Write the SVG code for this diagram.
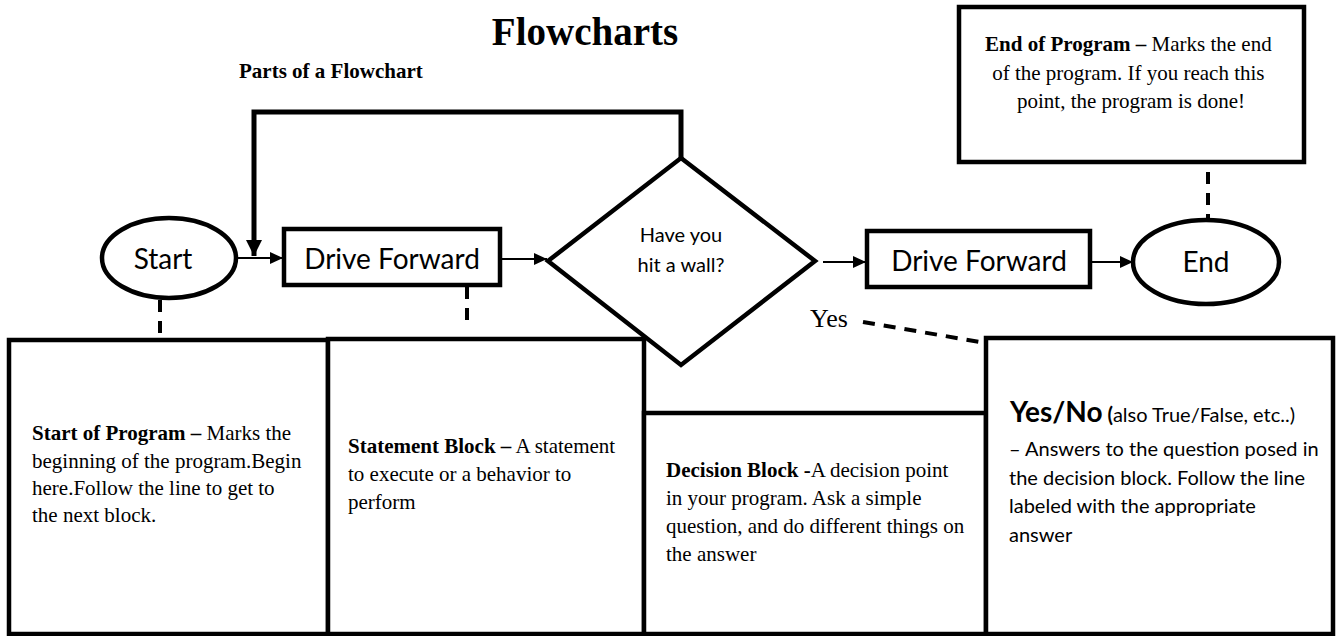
<svg xmlns="http://www.w3.org/2000/svg" width="1336" height="636" viewBox="0 0 1336 636">
  <defs>
    <style>
      .shape{fill:#fff;stroke:#000;stroke-width:4.5}
      .serif{font-family:"Liberation Serif","Times New Roman",serif;fill:#000}
      .sans{font-family:Lato,"Open Sans",sans-serif;fill:#000}
      .b{font-weight:bold}
      .body{font-size:21px}
      .flow{stroke:#000;stroke-width:2;fill:none}
      .loop{stroke:#000;stroke-width:5;fill:none}
      .dash{stroke:#000;stroke-width:4;fill:none;stroke-dasharray:12 9}
      .label{font-size:28px;text-anchor:middle}
    </style>
    <marker id="arrow" markerUnits="userSpaceOnUse" markerWidth="14" markerHeight="14" refX="13" refY="7" orient="auto">
      <path d="M0,1 L13,7 L0,13 Z" fill="#000"/>
    </marker>
    <marker id="arrowBig" markerUnits="userSpaceOnUse" markerWidth="18" markerHeight="18" refX="16" refY="8" orient="auto">
      <path d="M0,0 L16,8 L0,16 Z" fill="#000"/>
    </marker>
  </defs>
  <rect width="1336" height="636" fill="#fff"/>

  <!-- headings -->
  <text class="serif b" x="585" y="45" font-size="39" text-anchor="middle">Flowcharts</text>
  <text class="serif b" x="239" y="78" font-size="21">Parts of a Flowchart</text>

  <!-- description panels -->
  <g id="start-info">
    <rect class="shape" x="9" y="340" width="319" height="294"/>
    <text class="serif body">
      <tspan x="32" y="440"><tspan class="b">Start of Program –</tspan> Marks the</tspan>
      <tspan x="32" y="468">beginning of the program.Begin</tspan>
      <tspan x="32" y="495">here.Follow the line to get to</tspan>
      <tspan x="32" y="522">the next block.</tspan>
    </text>
  </g>
  <g id="statement-info">
    <rect class="shape" x="328" y="339" width="316" height="295"/>
    <text class="serif body">
      <tspan x="348" y="453"><tspan class="b">Statement Block –</tspan> A statement</tspan>
      <tspan x="348" y="481">to execute or a behavior to</tspan>
      <tspan x="348" y="509">perform</tspan>
    </text>
  </g>
  <g id="decision-info">
    <rect class="shape" x="644" y="413" width="342" height="221"/>
    <text class="serif body">
      <tspan x="666" y="477"><tspan class="b">Decision Block -</tspan>A decision point</tspan>
      <tspan x="666" y="505">in your program. Ask a simple</tspan>
      <tspan x="666" y="533">question, and do different things on</tspan>
      <tspan x="666" y="561">the answer</tspan>
    </text>
  </g>
  <g id="yesno-info">
    <rect class="shape" x="986" y="338" width="347" height="296"/>
    <text class="sans" x="1010" y="422"><tspan class="b" font-size="28">Yes/No</tspan><tspan class="b" font-size="20"> (</tspan><tspan font-size="20">also True/False, etc..)</tspan></text>
    <text class="sans" font-size="20">
      <tspan x="1009" y="456">– Answers to the question posed in</tspan>
      <tspan x="1009" y="485">the decision block. Follow the line</tspan>
      <tspan x="1009" y="513">labeled with the appropriate</tspan>
      <tspan x="1009" y="542">answer</tspan>
    </text>
  </g>
  <g id="end-info">
    <rect class="shape" x="959" y="7" width="345" height="155"/>
    <text class="serif body" text-anchor="middle">
      <tspan x="1131" y="51"><tspan class="b">End of Program –</tspan> Marks the end</tspan>
      <tspan x="1131" y="80">of the program. If you reach this</tspan>
      <tspan x="1131" y="108">point, the program is done!</tspan>
    </text>
  </g>

  <!-- connectors -->
  <g id="connectors">
    <line class="flow" x1="237" y1="258" x2="283" y2="258" marker-end="url(#arrow)"/>
    <line class="flow" x1="500" y1="259" x2="547" y2="259" marker-end="url(#arrow)"/>
    <line class="flow" x1="823" y1="262" x2="866" y2="262" marker-end="url(#arrow)"/>
    <line class="flow" x1="1090" y1="262" x2="1133" y2="262" marker-end="url(#arrow)"/>
    <polyline class="loop" points="681,160 681,112 254,112 254,256" marker-end="url(#arrowBig)"/>
    <line class="dash" x1="160" y1="300" x2="160" y2="340"/>
    <line class="dash" x1="467" y1="287" x2="467" y2="326"/>
    <line class="dash" x1="1208" y1="172" x2="1208" y2="218"/>
    <line class="dash" x1="863" y1="322" x2="986" y2="343" stroke-dasharray="4 10 14 9"/>
  </g>
  <text class="serif" x="810" y="327" font-size="26">Yes</text>

  <!-- flow nodes -->
  <g id="start">
    <ellipse class="shape" cx="169" cy="258" rx="67" ry="40"/>
    <text class="sans label" x="163" y="269">Start</text>
  </g>
  <g id="drive-1">
    <rect class="shape" x="284" y="229" width="216" height="56"/>
    <text class="sans label" x="392" y="269">Drive Forward</text>
  </g>
  <g id="decision">
    <polygon class="shape" points="681,158 815,261 681,365 548,261"/>
    <text class="sans" font-size="20" text-anchor="middle"><tspan x="681" y="242">Have you</tspan><tspan x="681" y="272">hit a wall?</tspan></text>
  </g>
  <g id="drive-2">
    <rect class="shape" x="867" y="231" width="223" height="56"/>
    <text class="sans label" x="979" y="271">Drive Forward</text>
  </g>
  <g id="end">
    <ellipse class="shape" cx="1206" cy="262" rx="73" ry="42"/>
    <text class="sans label" x="1206" y="272">End</text>
  </g>
</svg>
